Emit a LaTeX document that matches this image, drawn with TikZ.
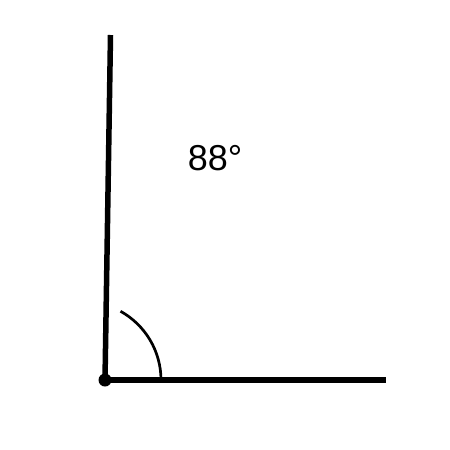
\documentclass[tikz,border=0pt]{standalone}
\usepackage{fontspec}
\setmainfont{Liberation Sans}
\begin{document}
\begin{tikzpicture}[x=1pt,y=-1pt]
        \useasboundingbox (0,0) rectangle (450,450);
        \coordinate (O) at (105,380);
        \coordinate (A) at (386,380);
        \coordinate (B) at (110.5,35);

        \draw[line width=6pt] (O) -- (A);
        \draw[line width=5.5pt] (O) -- (B);
        \fill (O) circle (6.5);

        \draw[line width=2.7pt] (161,380) arc[start angle=0, end angle=-61, radius=78.6];
        \node[font=\fontsize{36}{40}\selectfont] (ang) at (215,158) {88°};
    \end{tikzpicture}
\end{document}
